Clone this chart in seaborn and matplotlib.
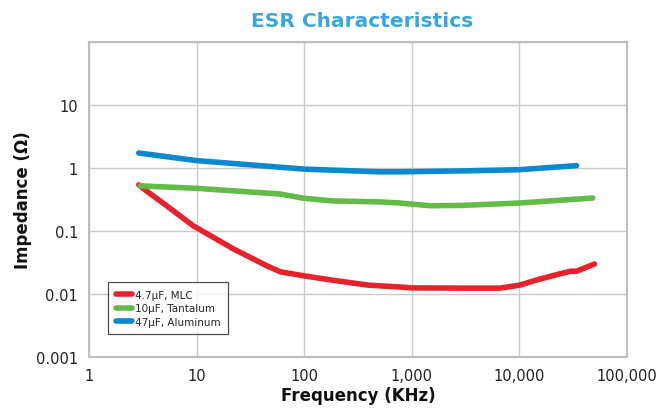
import matplotlib
matplotlib.use("Agg")
import matplotlib.pyplot as plt
import seaborn as sns
import pandas as pd
from matplotlib.ticker import FixedLocator, FixedFormatter, NullLocator

sns.set_theme(style="white")
plt.rcParams['font.family'] = ['DejaVu Sans']

mlc_f = [2.9, 3.5, 5.3, 9.3, 22, 45, 60, 98, 200, 400, 780, 1000, 3000, 6600, 10000, 15000, 24000, 30000, 34000, 50000]
mlc_z = [0.54, 0.42, 0.25, 0.121, 0.052, 0.028, 0.0225, 0.0195, 0.0162, 0.0138, 0.0129, 0.0125, 0.0124, 0.0124, 0.0138, 0.017, 0.021, 0.023, 0.023, 0.030]

tan_f = [3, 10, 60, 100, 186, 500, 780, 1475, 3000, 10000, 48000]
tan_z = [0.52, 0.476, 0.386, 0.33, 0.30, 0.29, 0.278, 0.252, 0.255, 0.278, 0.334]

alu_f = [2.9, 10, 100, 500, 780, 3000, 10000, 34000]
alu_z = [1.73, 1.31, 0.96, 0.87, 0.87, 0.90, 0.94, 1.09]

labels = ["4.7\u00b5F, MLC", "10\u00b5F, Tantalum", "47\u00b5F, Aluminum"]
colors = ["#E8222A", "#63BA47", "#0A88D0"]

x_ticks = [1, 10, 100, 1000, 10000, 100000]
x_ticklabels = ["1", "10", "100", "1,000", "10,000", "100,000"]
y_ticks = [0.001, 0.01, 0.1, 1, 10, 100]
y_ticklabels = ["0.001", "0.01", "0.1", "1", "10", ""]

df = pd.concat([
    pd.DataFrame({"f": mlc_f, "z": mlc_z, "s": labels[0]}),
    pd.DataFrame({"f": tan_f, "z": tan_z, "s": labels[1]}),
    pd.DataFrame({"f": alu_f, "z": alu_z, "s": labels[2]}),
], ignore_index=True)

fig = plt.figure(figsize=(6.6, 4.14), dpi=100)
ax = fig.add_axes([89/660, 1-358/414, (627-89)/660, (358-43)/414])

sns.lineplot(data=df, x="f", y="z", hue="s", hue_order=labels, palette=colors,
             sort=False, estimator=None, linewidth=4.0, ax=ax,
             solid_capstyle="round", solid_joinstyle="round")

ax.set_xscale("log")
ax.set_yscale("log")
ax.set_xlim(1, 100000)
ax.set_ylim(0.001, 100)
ax.xaxis.set_major_locator(FixedLocator(x_ticks))
ax.xaxis.set_major_formatter(FixedFormatter(x_ticklabels))
ax.xaxis.set_minor_locator(NullLocator())
ax.yaxis.set_major_locator(FixedLocator(y_ticks))
ax.yaxis.set_major_formatter(FixedFormatter(y_ticklabels))
ax.yaxis.set_minor_locator(NullLocator())
ax.grid(True, color="#CACACA", linewidth=1.0)
ax.set_axisbelow(True)
for sp in ax.spines.values():
    sp.set_color("#BDBDBD")
    sp.set_linewidth(1.5)
ax.tick_params(axis="both", length=0, labelsize=10.5, colors="#222222", pad=8)

ax.set_xlabel("Frequency (KHz)", fontsize=12, fontweight="bold", color="#111111", labelpad=2)
ax.set_ylabel("Impedance (\u03a9)", fontsize=12, fontweight="bold", color="#111111", labelpad=3)
fig.text(0.548, 0.948, "ESR Characteristics", ha="center", va="center",
         fontsize=14.5, fontweight="bold", color="#3BA6DD")

leg = ax.legend(loc="lower left", bbox_to_anchor=(0.03, 0.062), fontsize=7.5,
                frameon=True, fancybox=False, handlelength=1.6, borderpad=0.7,
                labelspacing=0.35, handletextpad=0.3, borderaxespad=0.3)
leg.get_frame().set_edgecolor("#222222")
leg.get_frame().set_linewidth(0.9)
for h in leg.get_lines():
    h.set_linewidth(4.0)
    h.set_solid_capstyle("round")

fig.savefig("out.png", dpi=100)
